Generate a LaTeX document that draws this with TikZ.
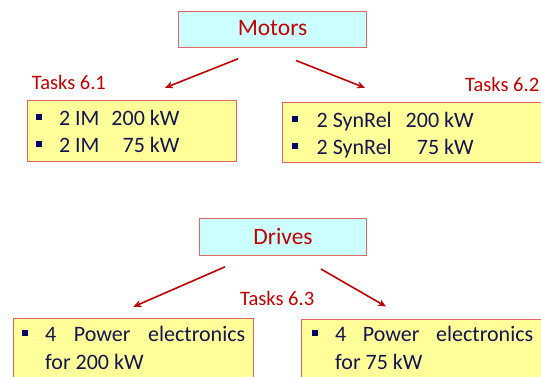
\documentclass[tikz,border=0pt]{standalone}
\usepackage{fontspec}
\setmainfont{Carlito}
\usetikzlibrary{arrows.meta}
\definecolor{boxred}{HTML}{E06666}
\definecolor{cyanfill}{HTML}{CCFFFF}
\definecolor{yelfill}{HTML}{FFFF99}
\definecolor{navy}{HTML}{14144F}
\definecolor{bulletc}{HTML}{000066}
\definecolor{darkred}{HTML}{C00000}
\newcommand{\bulsq}{\textcolor{bulletc}{\rule[5.5pt]{6pt}{6pt}}}
\tikzset{
  headbox/.style={draw=boxred, line width=1pt, fill=cyanfill, text=darkred, inner sep=0pt,
    font=\fontsize{23.5}{26}\selectfont},
  taskbox/.style={draw=boxred, line width=1pt, fill=yelfill, inner sep=0pt},
  lbl/.style={text=darkred, inner sep=0pt, font=\fontsize{20.5}{24}\selectfont},
  bodytop/.style={text=navy, inner sep=0pt, anchor=base west, font=\fontsize{22}{27}\selectfont},
  bodybot/.style={text=navy, inner sep=0pt, anchor=base west, font=\fontsize{22}{27.5}\selectfont},
  arr/.style={draw=darkred, line width=1.6pt, -{Stealth[length=8pt,width=7pt]}}
}
\begin{document}
\begin{tikzpicture}[x=1pt,y=-1pt]
\useasboundingbox (0,0) rectangle (541,376);
% Motors part
\node[headbox, minimum width=188.4pt, minimum height=36pt, text height=17pt, text depth=6.4pt] (motors) at (272.5,29.7) {Motors};
\node[taskbox, minimum width=209.4pt, minimum height=61.2pt] (t1) at (132,131.1) {};
\node[taskbox, minimum width=287.3pt, minimum height=60pt] (t2) at (426.35,132.7) {};
\node[bodytop] (t1text) at (36,125) {\begin{tabular}[t]{@{}l@{\hspace{16.8pt}}l@{\hspace{12pt}}r@{}}
\bulsq & 2 IM & 200 kW\\
\bulsq & 2 IM & 75 kW\end{tabular}};
\node[bodytop] (t2text) at (291.7,127) {\begin{tabular}[t]{@{}l@{\hspace{18.8pt}}l@{\hspace{14pt}}r@{}}
\bulsq & 2 SynRel & 200 kW\\
\bulsq & 2 SynRel & 75 kW\end{tabular}};
\node[lbl, anchor=base west] (task61) at (31.7,89) {Tasks 6.1};
\node[lbl, anchor=base west] (task62) at (465,91.7) {Tasks 6.2};
\draw[arr] ([xshift=-34.5pt,yshift=-10.6pt]motors.south) -- ([xshift=33pt,yshift=12.2pt]t1.north);
\draw[arr] ([xshift=23.5pt,yshift=-12.3pt]motors.south) -- ([xshift=-61.35pt,yshift=14.4pt]t2.north);
% Drives part
\node[headbox, minimum width=167.4pt, minimum height=36.7pt, text height=20pt, text depth=4.8pt] (drives) at (283,236.7) {Drives};
\node[taskbox, minimum width=240pt, minimum height=82pt] (d1) at (133,359) {};
\node[taskbox, minimum width=268.3pt, minimum height=81pt] (d2) at (435.85,359.5) {};
\node[bodybot] (d1text) at (21.7,341.5) {\begin{tabular}[t]{@{}l@{\hspace{17.3pt}}l@{}}
\bulsq & \makebox[200pt][s]{4 Power electronics}\\
 & for 200 kW\end{tabular}};
\node[bodybot] (d2text) at (311.7,341.7) {\begin{tabular}[t]{@{}l@{\hspace{17.3pt}}l@{}}
\bulsq & \makebox[198pt][s]{4 Power electronics}\\
 & for 75 kW\end{tabular}};
\node[lbl, anchor=base west] (task63) at (240,305) {Tasks 6.3};
\draw[arr] ([xshift=-58pt,yshift=-11.3pt]drives.south) -- ([xshift=0.3pt,yshift=10.7pt]d1.north);
\draw[arr] ([xshift=38pt,yshift=-13.5pt]drives.south) -- ([xshift=-49.85pt,yshift=12pt]d2.north);
\end{tikzpicture}
\end{document}
